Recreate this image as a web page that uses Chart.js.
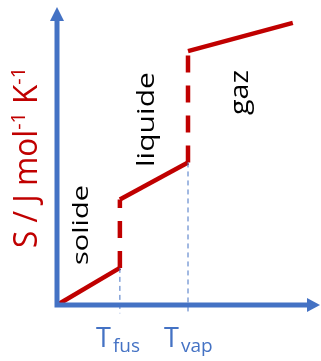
<!DOCTYPE html>
<html>
<head>
<meta charset="utf-8">
<script src="https://cdn.jsdelivr.net/npm/chart.js@4"></script>
<style>
  html, body { margin: 0; padding: 0; background: #fff; }
  #wrap { width: 321px; height: 361px; position: relative; }
</style>
</head>
<body>
<div id="wrap"><canvas id="c"></canvas></div>
<script>
// Entropy vs temperature (schematic), arbitrary units 0..100 on both axes
const temps = [0, 24, 24, 50, 50, 90];
const entropy = [0, 12.5, 35.5, 48, 85.5, 95];

const T_FUS = 24;
const T_VAP = 50;
const tickLabels = [
  { x: T_FUS, main: 'T', sub: 'fus' },
  { x: T_VAP, main: 'T', sub: 'vap' },
];

// phase labels (rotated): text, baseline x in px, start/end along the text, font size
const phaseNames = ['solide', 'liquide', 'gaz'];
const phaseBase = [88, 154, 248];
const phaseFrom = [265, 167, 115];
const phaseTo = [185, 72, 70];
const phaseSize = [22, 23, 25];

const RED = '#c00000';
const BLUE = '#4472c4';
const FONT = '"Open Sans", sans-serif';

const points = temps.map((t, i) => ({ x: t, y: entropy[i] }));

// thin dashed guides from the transition points down past the T axis
const guideFus = [{ x: T_FUS, y: entropy[1] }, { x: T_FUS, y: -2.8 }];
const guideVap = [{ x: T_VAP, y: entropy[3] }, { x: T_VAP, y: -2.8 }];

// draws text rotated -90deg, stretched along its length to fit from y0 up to y1
function rotatedText(ctx, parts, bx, y0, y1) {
  let total = 0;
  parts.forEach(p => { ctx.font = p.size + 'px ' + FONT; total += ctx.measureText(p.t).width; });
  ctx.save();
  ctx.translate(bx, y0);
  ctx.rotate(-Math.PI / 2);
  ctx.scale((y0 - y1) / total, 1);
  ctx.textAlign = 'left';
  ctx.textBaseline = 'alphabetic';
  let cx = 0;
  parts.forEach(p => {
    ctx.font = p.size + 'px ' + FONT;
    ctx.fillText(p.t, cx, -(p.rise || 0));
    cx += ctx.measureText(p.t).width;
  });
  ctx.restore();
}

const decor = {
  id: 'decor',
  afterDatasetsDraw(chart) {
    const { ctx, scales: { x, y } } = chart;
    const x0 = x.getPixelForValue(0);
    const y0 = y.getPixelForValue(0);

    ctx.save();
    // axes with arrow heads
    ctx.strokeStyle = BLUE;
    ctx.fillStyle = BLUE;
    ctx.lineWidth = 5;
    ctx.beginPath();
    ctx.moveTo(x0, y0 + 2.5);
    ctx.lineTo(x0, 18);
    ctx.moveTo(x0 - 2.5, y0);
    ctx.lineTo(309, y0);
    ctx.stroke();
    ctx.beginPath();
    ctx.moveTo(x0, 7);
    ctx.lineTo(x0 + 7, 21);
    ctx.lineTo(x0 - 7, 21);
    ctx.closePath();
    ctx.fill();
    ctx.beginPath();
    ctx.moveTo(320, y0);
    ctx.lineTo(307, y0 - 7);
    ctx.lineTo(307, y0 + 7);
    ctx.closePath();
    ctx.fill();

    // T_fus / T_vap labels
    ctx.textBaseline = 'alphabetic';
    ctx.textAlign = 'left';
    tickLabels.forEach(l => {
      const left = x.getPixelForValue(l.x) - 24;
      ctx.font = '27px ' + FONT;
      ctx.fillText(l.main, left, 347);
      ctx.font = '19px ' + FONT;
      ctx.fillText(l.sub, left + 17, 352);
    });

    // phase labels
    ctx.fillStyle = '#000';
    phaseNames.forEach((name, i) => {
      rotatedText(ctx, [{ t: name, size: phaseSize[i] }], phaseBase[i], phaseFrom[i], phaseTo[i]);
    });

    // y axis title with superscripts
    ctx.fillStyle = RED;
    rotatedText(ctx, [
      { t: 'S / J mol', size: 32 },
      { t: '-1', size: 20, rise: 12 },
      { t: ' K', size: 32 },
      { t: '-1', size: 20, rise: 12 },
    ], 37, 248, 67);
    ctx.restore();
  }
};

new Chart(document.getElementById('c'), {
  type: 'scatter',
  data: {
    datasets: [
      {
        data: guideFus,
        showLine: true,
        borderColor: BLUE,
        borderWidth: 1,
        borderDash: [5, 4],
        pointRadius: 0,
        clip: false,
      },
      {
        data: guideVap,
        showLine: true,
        borderColor: BLUE,
        borderWidth: 1,
        borderDash: [5, 4],
        pointRadius: 0,
        clip: false,
      },
      {
        data: points,
        showLine: true,
        borderColor: RED,
        borderWidth: 4.5,
        borderJoinStyle: 'miter',
        pointRadius: 0,
        clip: false,
        segment: {
          borderDash: c => c.p0.parsed.x === c.p1.parsed.x ? [17, 13] : undefined,
        },
      },
    ],
  },
  options: {
    responsive: true,
    maintainAspectRatio: false,
    animation: false,
    layout: { padding: { left: 57, top: 8, right: 2, bottom: 56 } },
    plugins: { legend: { display: false }, tooltip: { enabled: false } },
    scales: {
      x: { type: 'linear', min: 0, max: 100, display: false },
      y: { type: 'linear', min: 0, max: 100, display: false },
    },
  },
  plugins: [decor],
});
</script>
</body>
</html>
